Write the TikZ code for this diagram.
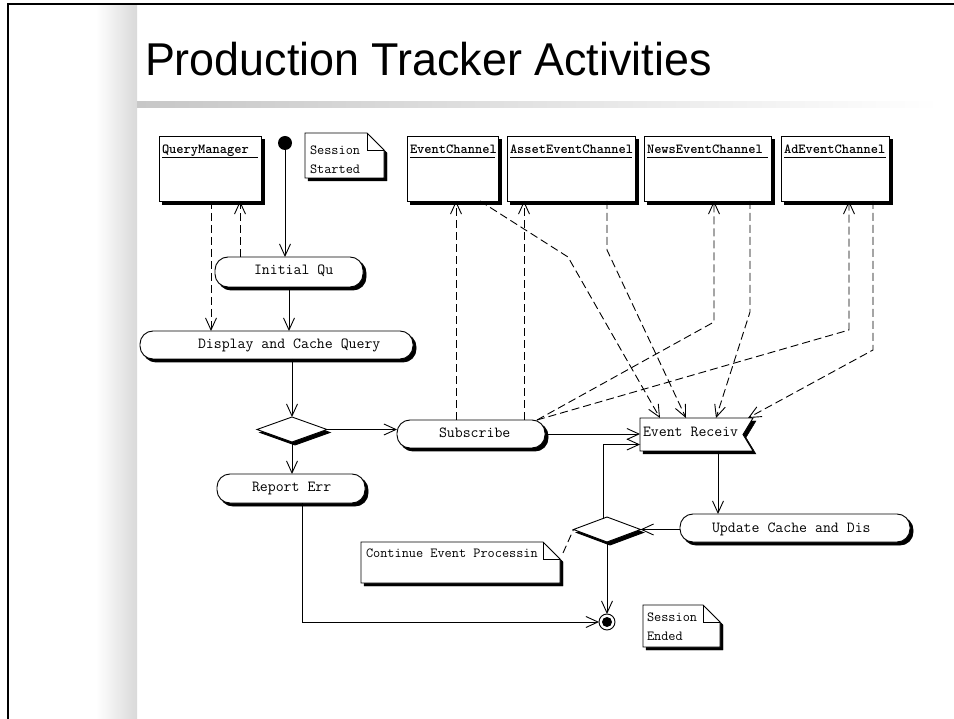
\documentclass[tikz,border=0pt]{standalone}
\usepackage{fontspec}
\setmainfont{Liberation Sans}
\usetikzlibrary{arrows.meta,shapes.geometric,calc}
\begin{document}
\begin{tikzpicture}[x=1pt,y=-1pt,
  every node/.style={inner sep=0pt, outer sep=0pt},
  ln/.style={line width=0.9pt},
  arr/.style={ln, -{Straight Barb[length=12pt,width=11pt]}},
  dep/.style={arr, dash pattern=on 8pt off 4pt},
  shad/.style={preaction={fill=black, draw=black, transform canvas={xshift=3pt,yshift=-3pt}}},
  cls/.style={draw, fill=white, ln, shad, anchor=north west, minimum height=65pt},
  clslbl/.style={anchor=base west, font=\ttfamily\bfseries\fontsize{13.8}{15}\selectfont},
  act/.style={draw, fill=white, ln, shad, rounded corners=13pt, anchor=north west},
  txt/.style={anchor=west, text height=8pt, text depth=0pt, font=\ttfamily\fontsize{15.4}{17}\selectfont},
  notebox/.style={anchor=north west},
  notetxt/.style={anchor=north west, align=left, font=\ttfamily\fontsize{13.9}{18.5}\selectfont},
  dec/.style={diamond, draw, fill=white, ln, shad, minimum height=25pt},
]
\useasboundingbox (0,0) rectangle (954,719);
% slide background
\shade[left color=white, right color=black!15] (96,5) rectangle (137,719);
\shade[left color=black!22, right color=white] (137,102) rectangle (940,108);
\draw[line width=1.2pt] (8,719) -- (8,4) -- (954,4);
\node[anchor=base west, font=\fontsize{46}{50}\selectfont] (title) at (145,76) {\scalebox{0.975}[1]{Production Tracker Activities}};

% class boxes
\node[cls, minimum width=102pt] (qm) at (159,136) {};
\node[cls, minimum width=91pt] (ec) at (407,136) {};
\node[cls, minimum width=128pt] (aec) at (507,136) {};
\node[cls, minimum width=127pt] (nec) at (644,136) {};
\node[cls, minimum width=108pt] (adc) at (781,136) {};
\foreach \b/\t in {qm/QueryManager, ec/EventChannel, aec/AssetEventChannel, nec/NewsEventChannel, adc/AdEventChannel}{
  \node[clslbl] (\b-l) at ([shift={(3pt,-18pt)}]\b.north west) {\t};
  \draw[ln] ([shift={(3pt,-21pt)}]\b.north west) -- ([shift={(-3pt,-21pt)}]\b.north east);
}

% initial node and notes
\node[circle, fill=black, minimum size=14pt] (start) at (285,143) {};
\node[notebox, minimum width=79pt, minimum height=45pt] (ns) at (305,133) {};
\node[notebox, minimum width=199pt, minimum height=41pt] (nc) at (361,542) {};
\node[notebox, minimum width=77pt, minimum height=42pt] (nd) at (643,605) {};
\foreach \n in {ns,nc,nd}{
  \draw[ln, fill=white, shad] (\n.north west) -- ([xshift=-17pt]\n.north east) -- ([yshift=-17pt]\n.north east) -- (\n.south east) -- (\n.south west) -- cycle;
  \draw[ln] ([xshift=-17pt]\n.north east) |- ([yshift=-17pt]\n.north east);
}
\node[notetxt] (ns-t) at (310,146) {Session\\Started};
\node[notetxt] (nc-t) at (366,549) {Continue Event Processin};
\node[notetxt] (nd-t) at (647,613) {Session\\Ended};

% activities
\node[act, minimum width=148pt, minimum height=30pt] (iq) at (215,257) {};
\node[act, minimum width=273pt, minimum height=28pt] (dcq) at (140,331) {};
\node[act, minimum width=148pt, minimum height=28pt] (sub) at (397,420) {};
\node[act, minimum width=148pt, minimum height=29pt] (rep) at (217,474) {};
\node[act, minimum width=230pt, minimum height=28pt] (upd) at (680,514) {};

% event received (signal receipt)
\node[anchor=north west, minimum width=113pt, minimum height=33pt] (er) at (640,418) {};
\draw[ln, fill=white, shad] (er.north west) -- (er.north east) -- ([xshift=-10pt]er.east) -- (er.south east) -- (er.south west) -- cycle;

% decisions and final
\node[dec, minimum width=70pt] (d1) at (292,429.5) {};
\node[dec, minimum width=67pt] (d2) at (607,529.5) {};
\node[circle, draw, ln, fill=white, minimum size=16pt] (fin) at (607,622) {};
\fill (fin.center) circle (5pt);

% texts
\node[txt] (iq-t) at (254,271) {Initial Qu};
\node[txt] (dcq-t) at (198,345) {Display and Cache Query};
\node[txt] (sub-t) at (439,434) {Subscribe};
\node[txt] (rep-t) at (252,488) {Report Err};
\node[txt] (upd-t) at (712,528) {Update Cache and Dis};
\node[txt] (er-t) at (643,432) {Event Receiv};

% bend points
\coordinate (b1) at (568,257);
\coordinate (b2) at (607,250);
\coordinate (b3) at (714,322);
\coordinate (b4) at (750,312);
\coordinate (b5) at (849,330);
\coordinate (b6) at (873,350);

% control flow
\draw[arr] (start) -- (start |- iq.north);
\draw[arr] (iq.south) -- (iq.south |- dcq.north);
\draw[arr] (d1.north |- dcq.south) -- (d1.north);
\draw[arr] (d1.east) -- (d1.east -| sub.west);
\draw[arr] (d1.south) -- (d1.south |- rep.north);
\draw[arr] (sub.east) -- (sub.east -| er.west);
\draw[arr] ([xshift=78pt]er.south west) -- ([xshift=78pt]er.south west |- upd.north);
\draw[arr] (d2.east -| upd.west) -- (d2.east);
\draw[arr] ([xshift=-4pt,yshift=-1.5pt]d2.north) |- ([yshift=-10pt]er.west);
\draw[arr] (d2.south) -- (fin);
\draw[arr] ([xshift=85pt]rep.south west) |- (fin.west);

% object flows
\draw[dep] ([xshift=52pt]qm.south west) -- ([xshift=52pt]qm.south west |- dcq.north);
\draw[dep] ([xshift=81pt]qm.south west |- iq.north) -- ([xshift=81pt]qm.south west);
\draw[dep] ([xshift=59pt]sub.north west) -- ([xshift=59pt]sub.north west |- ec.south);
\draw[dep] ([xshift=127pt]sub.north west) -- ([xshift=127pt]sub.north west |- aec.south);
\draw[dep] ([xshift=-18pt]ec.south east) -- (b1) -- ([xshift=20pt]er.north west);
\draw[dep] (b2 |- aec.south) -- (b2) -- ([xshift=46pt]er.north west);
\draw[dep] ([xshift=-8pt]sub.north east) -- (b3) -- (b3 |- nec.south);
\draw[dep] (b4 |- nec.south) -- (b4) -- ([xshift=76pt]er.north west);
\draw[dep] ([xshift=-8pt]sub.north east) -- (b5) -- (b5 |- adc.south);
\draw[dep] (b6 |- adc.south) -- (b6) -- ([xshift=-5pt]er.north east);
\draw[ln, dash pattern=on 8pt off 4pt] ([shift={(3pt,-11pt)}]nc.north east) -- (d2.west);
\end{tikzpicture}
\end{document}
